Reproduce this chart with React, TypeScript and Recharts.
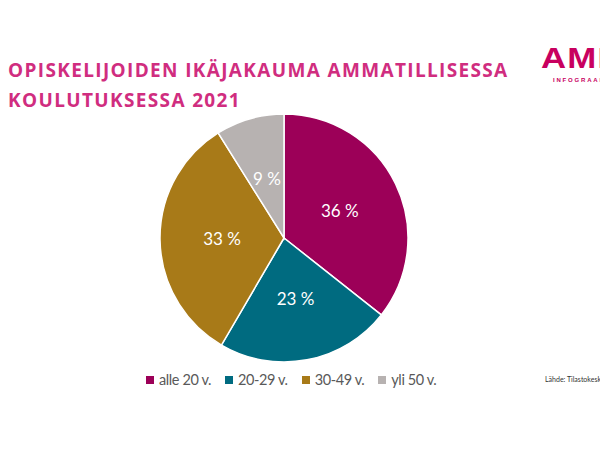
import React from 'react';
import { PieChart, Pie, Cell, Legend } from 'recharts';

const categories = ['alle 20 v.', '20-29 v.', '30-49 v.', 'yli 50 v.'];
const shares = [36, 23, 33, 9];
const COLORS = ['#9c0058', '#006b80', '#a87a18', '#b7b2b1'];

const data = categories.map((name, i) => ({ name, value: shares[i] }));

const RADIAN = Math.PI / 180;

const renderLabel = ({ cx, cy, midAngle, outerRadius, value }: any) => {
  const r = outerRadius * 0.5;
  const x = cx + r * Math.cos(-midAngle * RADIAN);
  const y = cy + r * Math.sin(-midAngle * RADIAN);
  return (
    <text
      x={x}
      y={y}
      fill="#ffffff"
      textAnchor="middle"
      dominantBaseline="central"
      fontFamily="Lato, sans-serif"
      fontSize={17}
    >
      {`${value} %`}
    </text>
  );
};

const renderLegend = () => (
  <div
    style={{
      display: 'flex',
      alignItems: 'center',
      fontFamily: 'Lato, sans-serif',
      whiteSpace: 'nowrap',
      width: 340,
    }}
  >
    {categories.map((name, i) => (
      <div
        key={name}
        style={{ display: 'flex', alignItems: 'center', marginRight: 14, flexShrink: 0 }}
      >
        <span
          style={{
            display: 'inline-block',
            width: 8,
            height: 8,
            background: COLORS[i],
            marginRight: 5,
          }}
        />
        <span style={{ color: '#595959', fontSize: 14.5, letterSpacing: -0.4 }}>{name}</span>
      </div>
    ))}
  </div>
);

const App: React.FC = () => {
  return (
    <div
      style={{
        position: 'absolute',
        left: 0,
        top: 0,
        width: 600,
        height: 450,
        background: '#ffffff',
        overflow: 'hidden',
        fontFamily: 'Lato, sans-serif',
      }}
    >
      <div
        style={{
          position: 'absolute',
          left: 8,
          top: 55,
          color: '#d02d7f',
          fontFamily: "'Open Sans', sans-serif",
          fontWeight: 700,
          fontSize: 19,
          letterSpacing: 1.35,
          lineHeight: '30px',
          whiteSpace: 'nowrap',
        }}
      >
        OPISKELIJOIDEN IKÄJAKAUMA AMMATILLISESSA
        <br />
        KOULUTUKSESSA 2021
      </div>
      <div
        style={{
          position: 'absolute',
          left: 541,
          top: 42,
          color: '#c8005f',
          fontFamily: "'Liberation Sans', sans-serif",
          fontWeight: 700,
          fontSize: 29,
          letterSpacing: 1,
          whiteSpace: 'nowrap',
          transform: 'scaleX(1.2)',
          transformOrigin: 'left center',
        }}
      >
        AMI
      </div>
      <div
        style={{
          position: 'absolute',
          left: 553,
          top: 77,
          color: '#c8005f',
          fontFamily: "'Liberation Sans', sans-serif",
          fontWeight: 700,
          fontSize: 6,
          letterSpacing: 1.8,
          whiteSpace: 'nowrap',
        }}
      >
        INFOGRAAFI
      </div>
      <div
        style={{
          position: 'absolute',
          left: 545,
          top: 375,
          color: '#333333',
          fontSize: 7,
          whiteSpace: 'nowrap',
        }}
      >
        Lähde: Tilastokeskus
      </div>
      <PieChart width={600} height={450} margin={{ top: 0, right: 0, bottom: 0, left: 0 }}>
        <Pie
          data={data}
          dataKey="value"
          nameKey="name"
          cx={284}
          cy={238}
          outerRadius={124}
          startAngle={90}
          endAngle={-270}
          stroke="#ffffff"
          strokeWidth={1.5}
          labelLine={false}
          label={renderLabel}
          isAnimationActive={false}
        >
          {data.map((entry, index) => (
            <Cell key={`cell-${index}`} fill={COLORS[index]} />
          ))}
        </Pie>
        <Legend
          content={renderLegend}
          wrapperStyle={{ left: 146, top: 371, width: 340, bottom: 'auto' }}
        />
      </PieChart>
    </div>
  );
};

export default App;
